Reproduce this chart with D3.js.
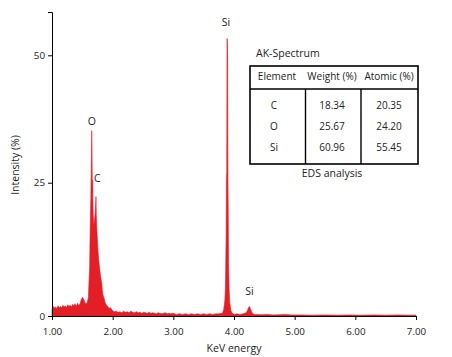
<!DOCTYPE html>
<html><head><meta charset="utf-8">
<script src="https://cdn.jsdelivr.net/npm/d3@7"></script>
<style>body{margin:0;background:#fff}svg{display:block}text{font-family:"Open Sans",sans-serif;fill:#222}</style>
</head><body><svg id="c" width="452" height="357"></svg>
<script>
const energy = [1.00,1.02,1.04,1.06,1.08,1.10,1.12,1.14,1.16,1.18,1.20,1.22,1.24,1.26,1.28,1.30,1.32,1.34,1.36,1.38,1.40,1.42,1.44,1.46,1.48,1.50,1.52,1.54,1.56,1.58,1.60,1.61,1.62,1.63,1.64,1.65,1.655,1.66,1.665,1.67,1.675,1.68,1.69,1.70,1.71,1.72,1.725,1.73,1.74,1.75,1.76,1.77,1.78,1.79,1.80,1.81,1.82,1.83,1.84,1.85,1.86,1.87,1.88,1.90,1.92,1.94,1.96,1.98,2.00,2.03,2.06,2.09,2.12,2.15,2.18,2.21,2.24,2.27,2.30,2.33,2.36,2.39,2.42,2.45,2.48,2.51,2.54,2.57,2.60,2.63,2.66,2.69,2.72,2.75,2.78,2.81,2.84,2.87,2.90,2.93,2.96,2.99,3.02,3.05,3.10,3.15,3.20,3.25,3.30,3.35,3.40,3.45,3.50,3.55,3.60,3.65,3.70,3.75,3.81,3.83,3.85,3.86,3.87,3.875,3.88,3.885,3.89,3.895,3.90,3.905,3.91,3.92,3.93,3.95,3.97,4.01,4.05,4.10,4.15,4.20,4.22,4.24,4.255,4.27,4.29,4.31,4.35,4.45,4.55,4.65,4.75,4.85,4.95,5.10,5.30,5.50,5.70,5.90,6.10,6.30,6.50,6.70,6.90,7.00];
const intensity = [1.2,1.8,1.5,1.7,1.4,1.9,1.6,1.8,1.5,2.0,1.7,1.9,1.6,2.1,1.8,2.0,1.7,2.2,1.9,2.3,1.8,2.4,2.0,2.2,3.0,3.5,3.2,2.6,2.3,2.5,3.5,6.5,9,17,22,30,35.2,31,23,25.5,21,19,17,18,19,21,22.4,19,16,14,12,10.5,9.5,8.5,7.5,6.8,6.2,4.8,4,3.6,3.3,2.8,2.4,2.0,1.8,1.4,1.6,1.3,1.0,0.8,0.9,0.7,0.8,0.6,0.9,0.7,0.8,0.6,0.9,0.7,0.6,0.8,0.6,0.7,0.5,0.7,0.6,0.5,0.7,0.5,0.6,0.5,0.4,0.6,0.5,0.4,0.5,0.6,0.4,0.5,0.4,0.5,0.4,0.3,0.4,0.3,0.4,0.3,0.4,0.3,0.4,0.3,0.4,0.3,0.4,0.3,0.4,0.4,0.5,1.2,3.0,6,15,26,27,53.3,53,50,26,20,10,5,2.5,1.0,0.5,0.3,0.4,0.3,0.4,0.6,1.0,1.6,1.8,1.4,0.8,0.4,0.3,0.25,0.3,0.2,0.25,0.3,0.2,0.2,0.15,0.2,0.15,0.2,0.15,0.2,0.15,0.2,0.15,0.15];
const xTicks = [1,2,3,4,5,6,7];
const yTicks = [0,25,50];
const peakLabels = [{t:"O",e:1.655,v:35.2},{t:"C",e:1.725,v:25.5},{t:"Si",e:3.885,v:53.3},{t:"Si",e:4.255,v:1.8}];
const tableTitle = "AK-Spectrum";
const tableHeader = ["Element","Weight (%)","Atomic (%)"];
const elements = ["C","O","Si"];
const weightPct = ["18.34","25.67","60.96"];
const atomicPct = ["20.35","24.20","55.45"];
const tableCaption = "EDS analysis";

const svg = d3.select("#c");
const x = d3.scaleLinear().domain([1,7]).range([52,416]);
const y = d3.scaleLinear().domain([0,25,50,58.5]).range([316,182.7,55.3,12]);
const data = energy.map((e,i)=>({e, v:intensity[i]}));

svg.append("path").datum(data)
  .attr("d", d3.area().x(d=>x(d.e)).y0(y(0)).y1(d=>y(d.v)))
  .attr("fill","#e41e26").attr("stroke","#e41e26").attr("stroke-width",0.6);

const gx = svg.append("g").attr("transform",`translate(0,${y(0)})`)
  .call(d3.axisBottom(x).tickValues(xTicks).tickFormat(d3.format(".2f")).tickSizeOuter(0).tickSize(4));
const gy = svg.append("g").attr("transform",`translate(${x(1)},0)`)
  .call(d3.axisLeft(y).tickValues(yTicks).tickSizeOuter(0).tickSize(4));
[gx,gy].forEach(g=>{g.selectAll("path,line").attr("stroke","#000");g.selectAll("text").style("font-family","Open Sans").style("font-size","9.8px").attr("fill","#222");});
gx.selectAll("text").attr("dy","1.2em");

svg.append("text").attr("x",234).attr("y",352).attr("text-anchor","middle").style("font-size","10.5px").text("KeV energy");
svg.append("text").attr("transform","translate(19,165) rotate(-90)").attr("text-anchor","middle").style("font-size","10.5px").text("Intensity (%)");

const lblOff = [{dx:0,dy:-6},{dx:-2,dy:2},{dx:-1,dy:-12},{dx:0,dy:-11}];
peakLabels.forEach((p,i)=>{
  svg.append("text").attr("x",x(p.e)+lblOff[i].dx).attr("y",y(p.v)+lblOff[i].dy)
    .attr("text-anchor",i===1?"start":"middle").style("font-size","10.5px").text(p.t);
});

// table
const tb = {x0:250,x1:418,y0:66,yh:89,y1:164};
svg.append("text").attr("x",256).attr("y",57).style("font-size","10.5px").text(tableTitle);
svg.append("rect").attr("x",tb.x0).attr("y",tb.y0).attr("width",tb.x1-tb.x0).attr("height",tb.y1-tb.y0)
  .attr("fill","none").attr("stroke","#000").attr("stroke-width",1.6);
svg.append("line").attr("x1",tb.x0).attr("x2",tb.x1).attr("y1",tb.yh).attr("y2",tb.yh).attr("stroke","#000").attr("stroke-width",1.6);
[305.5,361].forEach(cx=>svg.append("line").attr("x1",cx).attr("x2",cx).attr("y1",tb.yh).attr("y2",tb.y1).attr("stroke","#000").attr("stroke-width",1.4));
const colC = [277,332,389];
tableHeader.forEach((h,i)=>svg.append("text").attr("x",colC[i]).attr("y",80).attr("text-anchor","middle").style("font-size","10px").text(h));
const rowY = [108.5,129.5,150.5];
elements.forEach((el,r)=>{
  [el,weightPct[r],atomicPct[r]].forEach((t,c)=>svg.append("text").attr("x",c===0?274:colC[c]).attr("y",rowY[r]).attr("text-anchor","middle").style("font-size","10px").text(t));
});
svg.append("text").attr("x",332).attr("y",177).attr("text-anchor","middle").style("font-size","10.5px").text(tableCaption);
</script></body></html>
